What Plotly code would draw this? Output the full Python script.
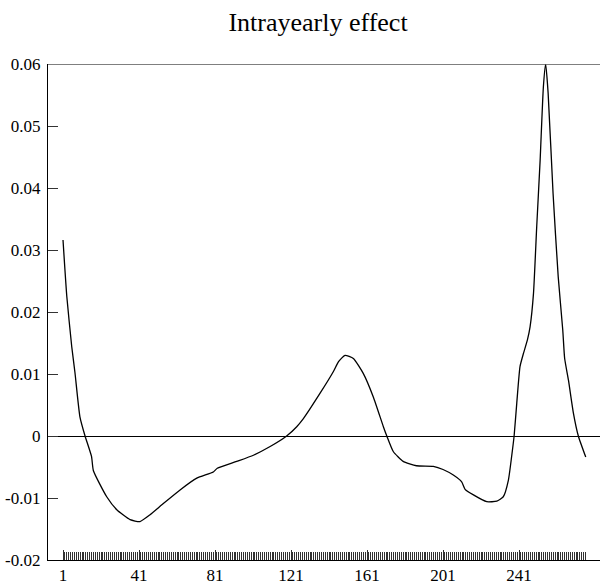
import plotly.graph_objects as go

# Data
day = [1, 3, 5.6, 7.3, 9.9, 12.6, 16, 17, 24, 29.3, 36.3, 41.5, 46.8, 53.8, 62.6,
       71.4, 80.1, 82.2, 92.4, 101.2, 110, 118.7, 124, 127.5, 136.3, 143.3, 146,
       149.4, 153.8, 159, 164.3, 169.6, 171.4, 174.8, 180, 187, 195.9, 201, 206.4,
       210.8, 212.6, 217, 224, 229.3, 232.7, 235.4, 237.1, 238.4, 239.8, 241.5,
       243.3, 245.4, 246.8, 248.6, 250.3, 252.1, 253.8, 255, 256.3, 258.9, 261.6,
       264, 265, 267, 269.6, 272.2, 276.1]
effect = [0.0316, 0.0225, 0.0144, 0.0102, 0.0031, 0.0, -0.0033, -0.0056, -0.0098,
          -0.0119, -0.0135, -0.0138, -0.0127, -0.0109, -0.0087, -0.0068, -0.0058,
          -0.0052, -0.0041, -0.0031, -0.0017, 0.0, 0.0015, 0.0028, 0.0069, 0.0104,
          0.0120, 0.0130, 0.0125, 0.0101, 0.0063, 0.0015, 0.0, -0.0025, -0.0041,
          -0.0048, -0.0049, -0.0054, -0.0063, -0.0074, -0.0086, -0.0095, -0.0106,
          -0.0105, -0.0098, -0.0071, -0.0033, 0.0, 0.0053, 0.0112, 0.0133, 0.0155,
          0.0176, 0.0230, 0.0338, 0.0445, 0.0563, 0.0600, 0.0553, 0.0391, 0.0257,
          0.0171, 0.0125, 0.0090, 0.0037, 0.0, -0.0034]

all_days = list(range(1, 277))
x_tickvals = [1, 41, 81, 121, 161, 201, 241]
x_ticktext = ["1", "41", "81", "121", "161", "201", "241"]
y_tickvals = [-0.02, -0.01, 0, 0.01, 0.02, 0.03, 0.04, 0.05, 0.06]
y_ticktext = ["-0.02", "-0.01", "0", "0.01", "0.02", "0.03", "0.04", "0.05", "0.06"]

x_range = [-6.9, 283.6]
y_range = [-0.02, 0.06]
font_family = "Liberation Serif"

fig = go.Figure()
fig.add_trace(go.Scatter(x=day, y=effect, mode="lines",
                         line=dict(color="black", width=1.3, shape="spline", smoothing=0.5),
                         hoverinfo="skip", showlegend=False))
fig.add_trace(go.Scatter(x=all_days, y=[None] * len(all_days), xaxis="x2",
                         mode="lines", hoverinfo="skip", showlegend=False))

fig.update_layout(
    width=600, height=588,
    margin=dict(l=48, r=0, t=64, b=28, autoexpand=False),
    paper_bgcolor="white", plot_bgcolor="white",
    font=dict(family=font_family, size=17, color="black"),
    title=dict(text="Intrayearly effect", xref="container", x=0.53, xanchor="center",
               yref="container", y=1 - 22 / 588, yanchor="middle",
               font=dict(family=font_family, size=26, color="black")),
    xaxis=dict(range=x_range, tickvals=x_tickvals, ticktext=x_ticktext,
               ticks="inside", ticklen=10, tickcolor="#333", tickwidth=1,
               showgrid=False, zeroline=False, showline=True, linecolor="black",
               linewidth=1, automargin=False, tickfont=dict(family=font_family, size=17)),
    xaxis2=dict(range=x_range, overlaying="x", side="bottom", anchor="y",
                tickvals=all_days, ticks="inside", ticklen=8, tickcolor="#333",
                tickwidth=1, showticklabels=False, showgrid=False, zeroline=False,
                showline=False, automargin=False),
    yaxis=dict(range=y_range, tickvals=y_tickvals, ticktext=y_ticktext,
               ticks="inside", ticklen=10, tickcolor="#333", tickwidth=1,
               showgrid=False, zeroline=True, zerolinecolor="black", zerolinewidth=1,
               showline=True, linecolor="black", linewidth=1.3, automargin=False,
               ticklabelstandoff=3,
               tickfont=dict(family=font_family, size=17)),
    shapes=[dict(type="line", xref="paper", yref="y", x0=0, x1=1, y0=0.06, y1=0.06,
                 line=dict(color="#555", width=1.5))],
)

fig.write_html("out.html", config={"displayModeBar": False},
               post_script="document.body.style.margin='0';document.body.style.overflow='hidden';")
